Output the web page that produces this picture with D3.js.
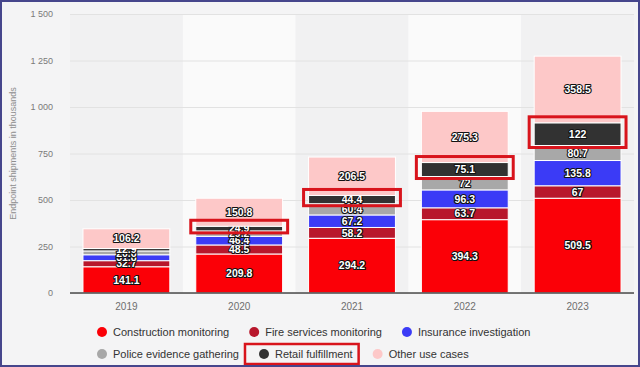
<!DOCTYPE html>
<html>
<head>
<meta charset="utf-8">
<script src="https://cdn.jsdelivr.net/npm/d3@7"></script>
<style>
  html, body { margin: 0; padding: 0; background: #f4f4f5; }
  svg { display: block; font-family: "Liberation Sans", Arial, sans-serif; }
</style>
</head>
<body>
<svg id="chart"></svg>
<script>
(function() {

    // Data
    const years = ['2019', '2020', '2021', '2022', '2023'];
    const construction = [141.1, 209.8, 294.2, 394.3, 509.5];
    const fireServices = [32.7, 48.5, 58.2, 63.7, 67];
    const insurance = [31.8, 46.4, 67.2, 96.3, 135.8];
    const police = [20.6, 29.2, 60.4, 72, 80.7];
    const retail = [12.9, 24.9, 44.4, 75.1, 122];
    const otherUses = [106.2, 150.8, 206.5, 275.3, 358.5];
    const seriesNames = ['Construction monitoring', 'Fire services monitoring', 'Insurance investigation',
        'Police evidence gathering', 'Retail fulfillment', 'Other use cases'];
    const seriesColors = ['#fb0007', '#b8172c', '#3b3bf6', '#a8a8a8', '#323232', '#fdc8c8'];
    const yTicks = [0, 250, 500, 750, 1000, 1250, 1500];
    const highlighted = ['2020', '2021', '2022', '2023']; // boxed retail segments

    const w = 640;
    const h = 367;
    const left = 70;
    const right = 634;
    const top = 14;
    const bottom = 293;

    const svg = d3.select('#chart')
        .attr('width', w)
        .attr('height', h);

    svg.append('rect')
        .attr('width', w).attr('height', h)
        .attr('fill', '#f4f4f5');

    // Build rows for the stack
    const keys = ['construction', 'fire', 'insurance', 'police', 'retail', 'other'];
    const allSeries = [construction, fireServices, insurance, police, retail, otherUses];
    const rows = years.map((year, i) => {
        const row = { year: year };
        keys.forEach((k, j) => row[k] = allSeries[j][i]);
        return row;
    });
    const stacked = d3.stack().keys(keys)(rows);

    // Scales
    const scaleX = d3.scaleBand()
        .domain(years)
        .range([left, right])
        .paddingInner(0.23)
        .paddingOuter(0.115);

    const bandX = d3.scaleBand().domain(years).range([left, right]);

    const scaleY = d3.scaleLinear()
        .domain([0, 1500])
        .range([bottom, top]);

    const locale = d3.formatLocale({ decimal: '.', thousands: ' ', grouping: [3], currency: ['', ''] });
    const fmt = locale.format(',');

    // Column bands
    svg.append('g').selectAll('rect')
        .data(years)
        .enter()
        .append('rect')
        .attr('x', d => bandX(d))
        .attr('y', top)
        .attr('width', bandX.bandwidth())
        .attr('height', bottom - top)
        .attr('fill', (d, i) => i % 2 === 0 ? '#f1f1f2' : '#fafafa');

    // Grid + y labels
    const yAxis = d3.axisLeft(scaleY)
        .tickValues(yTicks)
        .tickSize(-(right - left))
        .tickPadding(17)
        .tickFormat(d => fmt(d));

    const gy = svg.append('g')
        .attr('transform', `translate(${left}, 0)`)
        .call(yAxis);
    gy.select('.domain').remove();
    gy.selectAll('.tick line').attr('stroke', '#e2e2e2');
    gy.selectAll('.tick text')
        .attr('fill', '#7a7a7a')
        .style('font-size', '9px')
        .style('font-family', '"Liberation Sans", Arial, sans-serif');

    // Axis title
    svg.append('text')
        .attr('transform', `translate(16, ${(top + bottom) / 2}) rotate(-90)`)
        .attr('text-anchor', 'middle')
        .attr('fill', '#8e8e8e')
        .style('font-size', '9px')
        .text('Endpoint shipments in thousands');

    // Bars
    const groups = svg.append('g').selectAll('g')
        .data(stacked)
        .enter()
        .append('g')
        .attr('fill', (d, i) => seriesColors[i]);

    groups.selectAll('rect')
        .data(d => d)
        .enter()
        .append('rect')
        .attr('x', d => scaleX(d.data.year))
        .attr('y', d => scaleY(d[1]))
        .attr('width', scaleX.bandwidth())
        .attr('height', d => scaleY(d[0]) - scaleY(d[1]))
        .attr('stroke', '#ffffff')
        .attr('stroke-width', 1);

    // Baseline
    svg.append('line')
        .attr('x1', left).attr('x2', right)
        .attr('y1', scaleY(0)).attr('y2', scaleY(0))
        .attr('stroke', '#4a4a4a')
        .attr('stroke-width', 1.5);

    // X axis labels
    const xAxis = d3.axisBottom(scaleX).tickSize(0).tickPadding(10);
    const gx = svg.append('g')
        .attr('transform', `translate(0, ${bottom})`)
        .call(xAxis);
    gx.select('.domain').remove();
    gx.selectAll('.tick text')
        .attr('fill', '#6e6e6e')
        .style('font-size', '10px')
        .style('font-family', '"Liberation Sans", Arial, sans-serif');

    // Segment labels
    groups.selectAll('text')
        .data(d => d.map(p => ({ p: p, v: p.data[d.key] })))
        .enter()
        .append('text')
        .attr('x', d => scaleX(d.p.data.year) + scaleX.bandwidth() / 2)
        .attr('y', d => (scaleY(d.p[0]) + scaleY(d.p[1])) / 2)
        .attr('dy', '0.35em')
        .attr('text-anchor', 'middle')
        .attr('fill', '#ffffff')
        .attr('stroke', '#111111')
        .attr('stroke-width', 2.2)
        .attr('paint-order', 'stroke')
        .attr('stroke-linejoin', 'round')
        .style('font-size', '10.5px')
        .style('font-weight', 'bold')
        .text(d => String(d.v));

    // Red highlight boxes around retail segments
    const retailLayer = stacked[4];
    svg.append('g').selectAll('rect')
        .data(retailLayer.filter(p => highlighted.indexOf(p.data.year) !== -1))
        .enter()
        .append('rect')
        .attr('x', d => scaleX(d.data.year) - 5)
        .attr('y', d => scaleY(d[1]) - 6)
        .attr('width', scaleX.bandwidth() + 10)
        .attr('height', d => scaleY(d[0]) - scaleY(d[1]) + 8)
        .attr('fill', 'none')
        .attr('stroke', '#d8141c')
        .attr('stroke-width', 3);

    // Legend
    const legendRows = [[0, 1, 2], [3, 4, 5]];
    const legendY = [332, 354];
    const legend = svg.append('g').style('font-size', '11px');
    legendRows.forEach((row, r) => {
        let x = 97;
        row.forEach(i => {
            const item = legend.append('g');
            item.append('circle')
                .attr('cx', x + 5)
                .attr('cy', legendY[r])
                .attr('r', 5)
                .attr('fill', seriesColors[i]);
            const t = item.append('text')
                .attr('x', x + 16)
                .attr('y', legendY[r])
                .attr('dy', '0.35em')
                .attr('fill', '#333333')
                .text(seriesNames[i]);
            const tw = t.node().getComputedTextLength();
            if (i === 4) {
                legend.append('rect')
                    .attr('x', x - 14)
                    .attr('y', legendY[r] - 10)
                    .attr('width', tw + 16 + 14 + 6)
                    .attr('height', 20)
                    .attr('fill', 'none')
                    .attr('stroke', '#d8141c')
                    .attr('stroke-width', 2.5);
            }
            x = x + 16 + tw + 20;
        });
    });

    // Outer frame
    svg.append('rect')
        .attr('x', 1).attr('y', 1)
        .attr('width', w - 2).attr('height', h - 2)
        .attr('fill', 'none')
        .attr('stroke', '#46468c')
        .attr('stroke-width', 2);

})();
</script>
</body>
</html>
